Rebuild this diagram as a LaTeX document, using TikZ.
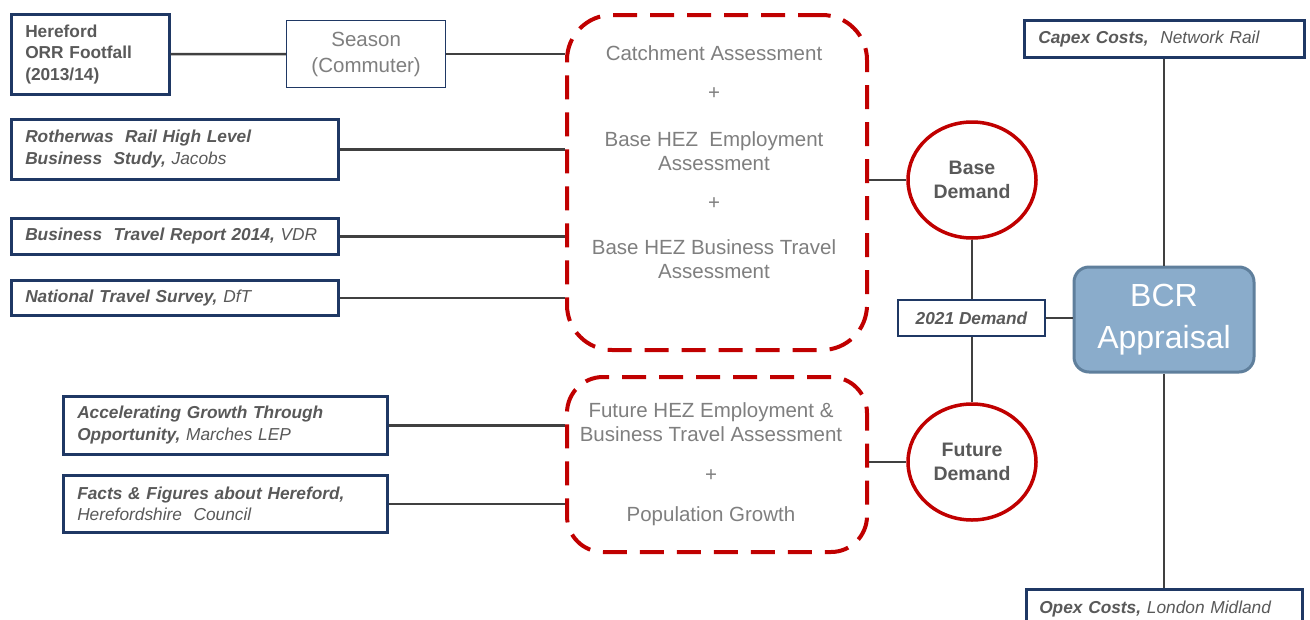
\documentclass[tikz,border=0pt]{standalone}
\usepackage{fontspec}
\setmainfont{Liberation Sans}
\usetikzlibrary{shapes.geometric}

\definecolor{navy}{HTML}{1F3864}
\definecolor{txtgray}{HTML}{595959}
\definecolor{lightgray}{HTML}{7F7F7F}
\definecolor{dashred}{HTML}{C00000}
\definecolor{bcrfill}{HTML}{8AACCB}
\definecolor{bcredge}{HTML}{5F7F9C}
\definecolor{linegray}{HTML}{404040}

\tikzset{
  srcbox/.style={rectangle, draw=navy, line width=2.5pt, fill=white, anchor=north west, inner xsep=14pt, align=left, text=txtgray, font=\fontsize{17.3}{21.5}\selectfont\bfseries\itshape},
  seasonbox/.style={rectangle, draw=navy, line width=1.3pt, anchor=north west, align=center, text=lightgray, font=\fontsize{20.5}{26}\selectfont},
  dashbox/.style={rectangle, draw=dashred, line width=4pt, dash pattern=on 24pt off 13pt, rounded corners=45pt, anchor=north west},
  asstext/.style={align=center, text=lightgray, font=\fontsize{20.5}{24}\selectfont},
  demand/.style={ellipse, draw=dashred, line width=3.5pt, minimum width=128pt, minimum height=116pt, align=center, text=txtgray, font=\fontsize{19.5}{24}\selectfont\bfseries},
  link/.style={draw=linegray, line width=2.5pt},
}
\newcommand{\srcname}[1]{{\mdseries #1}}

\begin{document}
\begin{tikzpicture}[x=1pt, y=-1pt]
\useasboundingbox [fill=white] (0,0) rectangle (1310,619);

% data sources
\node (hereford) [srcbox, text width=130pt, minimum height=80pt] at (10,13) {\upshape Hereford\\\upshape ORR Footfall\\\upshape (2013/14)};
\node (season) [seasonbox, minimum width=159pt, minimum height=67pt] at (286,20) {Season\\(Commuter)};
\node (rotherwas) [srcbox, text width=299pt, minimum height=60pt] at (10,118) {Rotherwas\ \ Rail High Level\\Business\ \ Study, \srcname{Jacobs}};
\node (travel) [srcbox, text width=299pt, minimum height=36pt] at (10,217) {Business\ \ Travel Report 2014, \srcname{VDR}};
\node (survey) [srcbox, text width=299pt, minimum height=35pt] at (10,279) {National Travel Survey, \srcname{DfT}};
\node (marches) [srcbox, text width=296pt, minimum height=58pt] at (62,395) {Accelerating Growth Through\\Opportunity, \srcname{Marches LEP}};
\node (facts) [srcbox, text width=296pt, minimum height=57pt] at (62,474) {Facts \& Figures about Hereford,\\\srcname{Herefordshire\ \ Council}};

% assessments
\node (baseA) [dashbox, minimum width=300pt, minimum height=335pt] at (565,13) {};
\node (baseT) [asstext] at (714,162) {Catchment Assessment\\[15pt]+\\[23pt]Base HEZ\ \ Employment\\Assessment\\[15pt]+\\[21pt]Base HEZ Business Travel\\Assessment};
\node (futureA) [dashbox, rounded corners=36pt, minimum width=300pt, minimum height=175pt] at (565,375) {};
\node (futureT) [asstext] at (711,464) {Future HEZ Employment \&\\Business Travel Assessment\\[16pt]+\\[16pt]Population Growth};

% demand
\node (baseD) [demand] at (972,180) {Base\\Demand};
\node (futureD) [demand] at (972,462) {Future\\Demand};
\node (d2021) [srcbox, anchor=center, minimum width=147pt, minimum height=36pt, inner xsep=6pt] at (971.5,318) {2021 Demand};

% appraisal and costs
\node (bcr) [rectangle, rounded corners=15pt, fill=bcrfill, draw=bcredge, line width=3pt, minimum width=180pt, minimum height=105pt, align=center, text=white, font=\fontsize{32}{42}\selectfont] at (1164,319.5) {BCR\\Appraisal};
\node (capex) [srcbox, text width=252pt, minimum height=37pt] at (1023,19) {Capex Costs,\ \ \srcname{Network Rail}};
\node (opex) [srcbox, text width=250pt, minimum height=40pt, inner xsep=13pt] at (1025,588) {Opex Costs,\ \srcname{London Midland}};

% connectors
\draw [link] (hereford) -- (season);
\draw [link] (season.east) -- (season.east -| baseA.west);
\draw [link] (rotherwas.east) -- (rotherwas.east -| baseA.west);
\draw [link] (travel.east) -- (travel.east -| baseA.west);
\draw [link] (survey.east) -- (survey.east -| baseA.west);
\draw [link] (marches.east) -- (marches.east -| futureA.west);
\draw [link] (facts.east) -- (facts.east -| futureA.west);
\draw [link] (baseA.east |- baseD) -- (baseD.west);
\draw [link] (futureA.east |- futureD) -- (futureD.west);
\draw [link] (baseD.south) -- (d2021.north -| baseD.south);
\draw [link] (d2021.south -| futureD.north) -- (futureD.north);
\draw [link] (d2021.east) -- (d2021.east -| bcr.west);
\draw [link] (capex.south -| bcr.north) -- (bcr.north);
\draw [link] (bcr.south) -- (opex.north -| bcr.south);
\end{tikzpicture}
\end{document}
